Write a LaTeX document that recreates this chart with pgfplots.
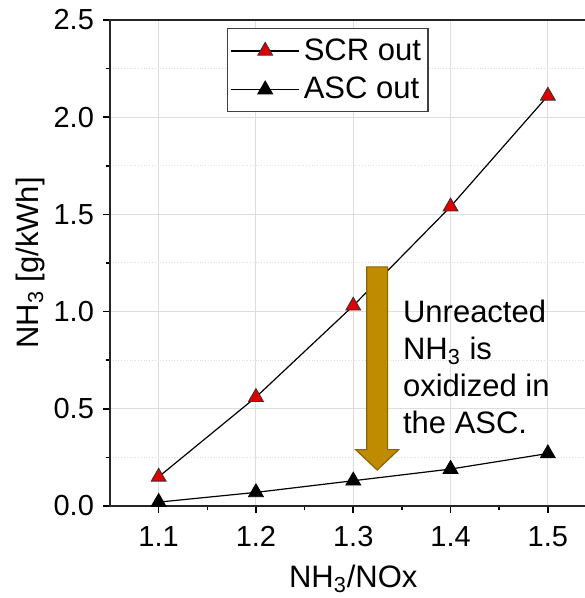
\documentclass[border=0pt]{standalone}
\usepackage{fontspec}
\setmainfont{Liberation Sans}
\usepackage{pgfplots}
\pgfplotsset{compat=1.18}

\definecolor{scrred}{RGB}{220,0,0}
\definecolor{arrowgold}{RGB}{191,139,0}
\definecolor{arrowedge}{RGB}{140,100,0}
\definecolor{gridgray}{RGB}{222,222,222}

\begin{document}
\begin{tikzpicture}
\begin{axis}[
  scale only axis,
  width=243.25pt, height=243pt,
  xmin=1.05, xmax=1.55,
  ymin=0, ymax=2.5,
  xtick={1.1,1.2,1.3,1.4,1.5},
  ytick={0,0.5,1.0,1.5,2.0,2.5},
  minor x tick num=1,
  minor y tick num=1,
  xmajorgrids, ymajorgrids, yminorgrids,
  major grid style={gridgray, line width=0.5pt},
  minor grid style={gridgray, densely dotted, line width=0.5pt},
  tick align=outside,
  major tick length=3.5pt,
  minor tick length=2pt,
  tick style={black, line width=0.8pt},
  xtick pos=bottom, ytick pos=left,
  axis line style={black!85, line width=1pt},
  /pgf/number format/assume math mode=true,
  /pgf/number format/fixed,
  /pgf/number format/fixed zerofill,
  /pgf/number format/precision=1,
  ticklabel style={font=\fontsize{14.5}{16}\selectfont},
  xticklabel style={yshift=-3pt},
  yticklabel style={xshift=-1pt},
  label style={font=\fontsize{15.5}{18}\selectfont},
  xlabel={NH\textsubscript{3}/NOx},
  ylabel={NH\textsubscript{3} [g/kWh]},
  xlabel style={at={(axis description cs:0.5,0)}, anchor=base, yshift=-40.5pt},
  ylabel style={at={(axis description cs:0,0.5)}, anchor=center, yshift=40pt, rotate=0},
  legend cell align=left,
  legend style={
    at={(0.2405,0.9835)}, anchor=north west,
    draw=black!75, line width=0.6pt, fill=white,
    font=\fontsize{15.5}{18}\selectfont,
    inner xsep=1.5pt, inner ysep=3pt,
    row sep=3pt,
  },
  legend image code/.code={
    \draw[mark repeat=2, mark phase=2, #1]
      plot coordinates {(0pt,0pt) (17pt,0pt) (34pt,0pt)};
  },
]
\coordinate (sw) at (rel axis cs:0,0);
\coordinate (tl) at (rel axis cs:0,1);

\addplot[black, line width=0.6pt, mark=triangle*,
  mark size=4.3pt, mark options={fill=scrred, draw=black!80, line width=0.4pt}]
  coordinates {(1.1,0.15) (1.2,0.56) (1.3,1.03) (1.4,1.54) (1.5,2.11)};
\addlegendentry{SCR out}

\addplot[black, line width=0.6pt, mark=triangle*,
  mark size=4.3pt, mark options={fill=black, draw=black, line width=0.4pt}]
  coordinates {(1.1,0.02) (1.2,0.07) (1.3,0.13) (1.4,0.19) (1.5,0.27)};
\addlegendentry{ASC out}

% block arrow on top: SCR outlet level down to ASC outlet level
\filldraw[fill=arrowgold, draw=arrowedge, line width=0.6pt]
  (axis cs:1.3138,1.23) -- (axis cs:1.3353,1.23) -- (axis cs:1.3353,0.29)
  -- (axis cs:1.3467,0.29) -- (axis cs:1.3246,0.185) -- (axis cs:1.3025,0.29)
  -- (axis cs:1.3138,0.29) -- cycle;

% annotation; anchored on the baseline of its last line
\node[anchor=base west, align=left, inner sep=0pt,
  font=\fontsize{15.5}{18.5}\selectfont]
  at (axis cs:1.3508,0.3755)
  {Unreacted\\NH\textsubscript{3} is\\oxidized in\\the ASC.};
\end{axis}
\pgfresetboundingbox
\useasboundingbox ([xshift=-55pt,yshift=-46pt]sw) rectangle ([xshift=237pt,yshift=10pt]tl);
\end{tikzpicture}
\end{document}
